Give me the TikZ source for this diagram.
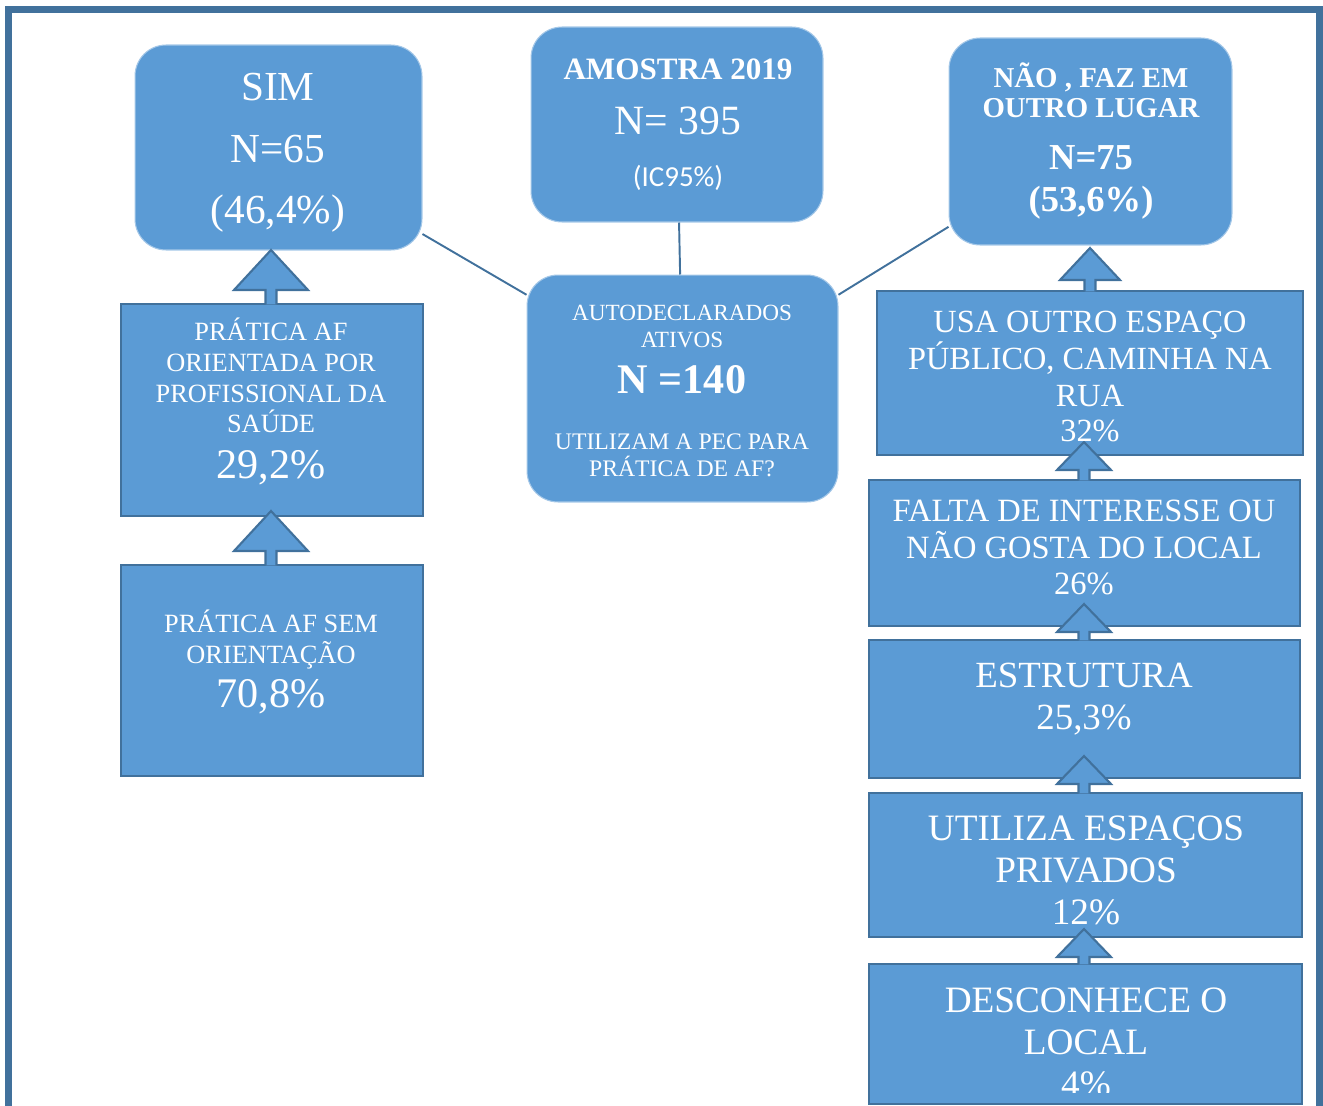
\documentclass[tikz,border=0pt]{standalone}
\usepackage{fontspec}
\setmainfont{Liberation Serif}
\newfontfamily\calibri{Carlito}
\usepackage{xcolor}
\usetikzlibrary{positioning,calc}

\definecolor{boxblue}{HTML}{5B9BD5}
\definecolor{edgeblue}{HTML}{41719C}
\newcommand{\fsz}[1]{\fontsize{#1}{#1}\selectfont}
% block arrow: lower box, tip coordinate, head half width, head length
\newcommand{\upblock}[4]{%
  \draw[blockarr] ($(#2 |- #1.north)+(-5.5,1.5)$) -- ($(#2)+(-5.5,#4)$) -- ($(#2)+(-#3,#4)$)
    -- (#2) -- ($(#2)+(#3,#4)$) -- ($(#2)+(5.5,#4)$) -- ($(#2 |- #1.north)+(5.5,1.5)$);
}

\begin{document}
\begin{tikzpicture}[
    x=0.02cm, y=-0.02cm,
    roundbox/.style={rectangle, rounded corners=0.62cm, fill=boxblue, draw=boxblue!55!white, line width=0.6pt},
    rectbox/.style={rectangle, fill=boxblue, draw=edgeblue, line width=1.2pt},
    txt/.style={text=white, anchor=base, inner sep=0pt},
    link/.style={draw=edgeblue, line width=1.1pt},
    blockarr/.style={fill=boxblue, draw=edgeblue, line width=1.2pt, line join=miter}
]
\useasboundingbox (0,0) rectangle (1323,1106);

% Frame
\draw[edgeblue, line width=4pt] (8.5,1106) -- (8.5,9.5) -- (1320,9.5) -- (1320,1106);

% Top row
\node[roundbox, minimum width=5.74cm, minimum height=4.1cm] (sim) at (278.5,147.5) {};
\node[roundbox, minimum width=5.84cm, minimum height=3.9cm] (amostra) at (677,124.5) {};
\node[roundbox, minimum width=5.66cm, minimum height=4.14cm] (nao) at (1090.5,141.5) {};
\node[roundbox, minimum width=6.22cm, minimum height=4.54cm] (auto) at (682.5,388.5) {};

% Left column
\node[rectbox, minimum width=6.04cm, minimum height=4.24cm] (orient) at (272,410) {};
\node[rectbox, minimum width=6.04cm, minimum height=4.22cm] (semor) at (272,670.5) {};

% Right column
\node[rectbox, minimum width=8.52cm, minimum height=3.28cm] (usa) at (1090,373) {};
\node[rectbox, minimum width=8.62cm, minimum height=2.92cm] (falta) at (1084.5,553) {};
\node[rectbox, minimum width=8.62cm, minimum height=2.76cm] (estr) at (1084.5,709) {};
\node[rectbox, minimum width=8.66cm, minimum height=2.88cm] (priv) at (1085.5,865) {};
\node[rectbox, minimum width=8.66cm, minimum height=2.8cm] (desc) at (1085.5,1034) {};

% Links
\draw[link] (sim.-31) -- (auto.149);
\draw[link] (amostra) -- (auto);
\draw[link] (auto.31) -- (nao.211);

% Block arrows
\coordinate (tip1) at (271,250);
\coordinate (tip2) at (271,511);
\coordinate (tip3) at (1090,248);
\coordinate (tip4) at (1084,442);
\coordinate (tip5) at (1084,604);
\coordinate (tip6) at (1084,756);
\coordinate (tip7) at (1084,929);
\upblock{orient}{tip1}{37}{40}
\upblock{semor}{tip2}{37}{40}
\upblock{usa}{tip3}{30}{32}
\upblock{falta}{tip4}{27}{28}
\upblock{estr}{tip5}{27}{28}
\upblock{priv}{tip6}{27}{28}
\upblock{desc}{tip7}{27}{28}

% Texts
\node[txt, font=\fsz{23.5pt}] (sim1) at (278,100) {SIM};
\node[txt, font=\fsz{23.5pt}] (sim2) at (278,162) {N=65};
\node[txt, font=\fsz{23.5pt}] (sim3) at (278,223) {(46,4\%)};

\node[txt, font=\fsz{17.7pt}\bfseries] (am1) at (678,79) {AMOSTRA 2019};
\node[txt, font=\fsz{23.7pt}] (am2) at (678,134) {N= 395};
\node[txt, font=\fsz{16.5pt}\calibri] (am3) at (678,186) {(IC95\%)};

\node[txt, font=\fsz{16.4pt}\bfseries] (nao1) at (1091,87) {NÃO , FAZ EM};
\node[txt, font=\fsz{16.4pt}\bfseries] (nao2) at (1091,117) {OUTRO LUGAR};
\node[txt, font=\fsz{20.8pt}\bfseries] (nao3) at (1091,169) {N=75};
\node[txt, font=\fsz{20.8pt}\bfseries] (nao4) at (1091,211) {(53,6\%)};

\node[txt, font=\fsz{13.2pt}] (au1) at (682,320) {AUTODECLARADOS};
\node[txt, font=\fsz{13.2pt}] (au2) at (682,347) {ATIVOS};
\node[txt, font=\fsz{24pt}\bfseries] (au3) at (682,393) {N =140};
\node[txt, font=\fsz{13.5pt}] (au4) at (682,449) {UTILIZAM A PEC PARA};
\node[txt, font=\fsz{13.5pt}] (au5) at (682,476) {PRÁTICA DE AF?};

\node[txt, font=\fsz{15pt}] (or1) at (271,340) {PRÁTICA AF};
\node[txt, font=\fsz{15pt}] (or2) at (271,371) {ORIENTADA POR};
\node[txt, font=\fsz{15pt}] (or3) at (271,402) {PROFISSIONAL DA};
\node[txt, font=\fsz{15pt}] (or4) at (271,432) {SAÚDE};
\node[txt, font=\fsz{24pt}] (or5) at (271,478) {29,2\%};

\node[txt, font=\fsz{15pt}] (se1) at (271,632) {PRÁTICA AF SEM};
\node[txt, font=\fsz{15pt}] (se2) at (271,663) {ORIENTAÇÃO};
\node[txt, font=\fsz{24pt}] (se3) at (271,707) {70,8\%};

\node[txt, font=\fsz{18.4pt}] (us1) at (1090,332) {USA OUTRO ESPAÇO};
\node[txt, font=\fsz{18.4pt}] (us2) at (1090,369) {PÚBLICO, CAMINHA NA};
\node[txt, font=\fsz{18.4pt}] (us3) at (1090,406) {RUA};
\node[txt, font=\fsz{18.4pt}] (us4) at (1090,441) {32\%};

\node[txt, font=\fsz{18.5pt}] (fa1) at (1084,521) {FALTA DE INTERESSE OU};
\node[txt, font=\fsz{18.5pt}] (fa2) at (1084,558) {NÃO GOSTA DO LOCAL};
\node[txt, font=\fsz{18.5pt}] (fa3) at (1084,594) {26\%};

\node[txt, font=\fsz{21pt}] (es1) at (1084,687) {ESTRUTURA};
\node[txt, font=\fsz{21pt}] (es2) at (1084,729) {25,3\%};

\node[txt, font=\fsz{21.2pt}] (pr1) at (1086,840) {UTILIZA ESPAÇOS};
\node[txt, font=\fsz{21.2pt}] (pr2) at (1086,882) {PRIVADOS};
\node[txt, font=\fsz{21.2pt}] (pr3) at (1086,924) {12\%};

\begin{scope}
\clip (869,964) rectangle (1302,1092);
\node[txt, font=\fsz{21.2pt}] (de1) at (1086,1012) {DESCONHECE O};
\node[txt, font=\fsz{21.2pt}] (de2) at (1086,1054) {LOCAL};
\node[txt, font=\fsz{21.2pt}] (de3) at (1086,1096) {4\%};
\end{scope}
\end{tikzpicture}
\end{document}
